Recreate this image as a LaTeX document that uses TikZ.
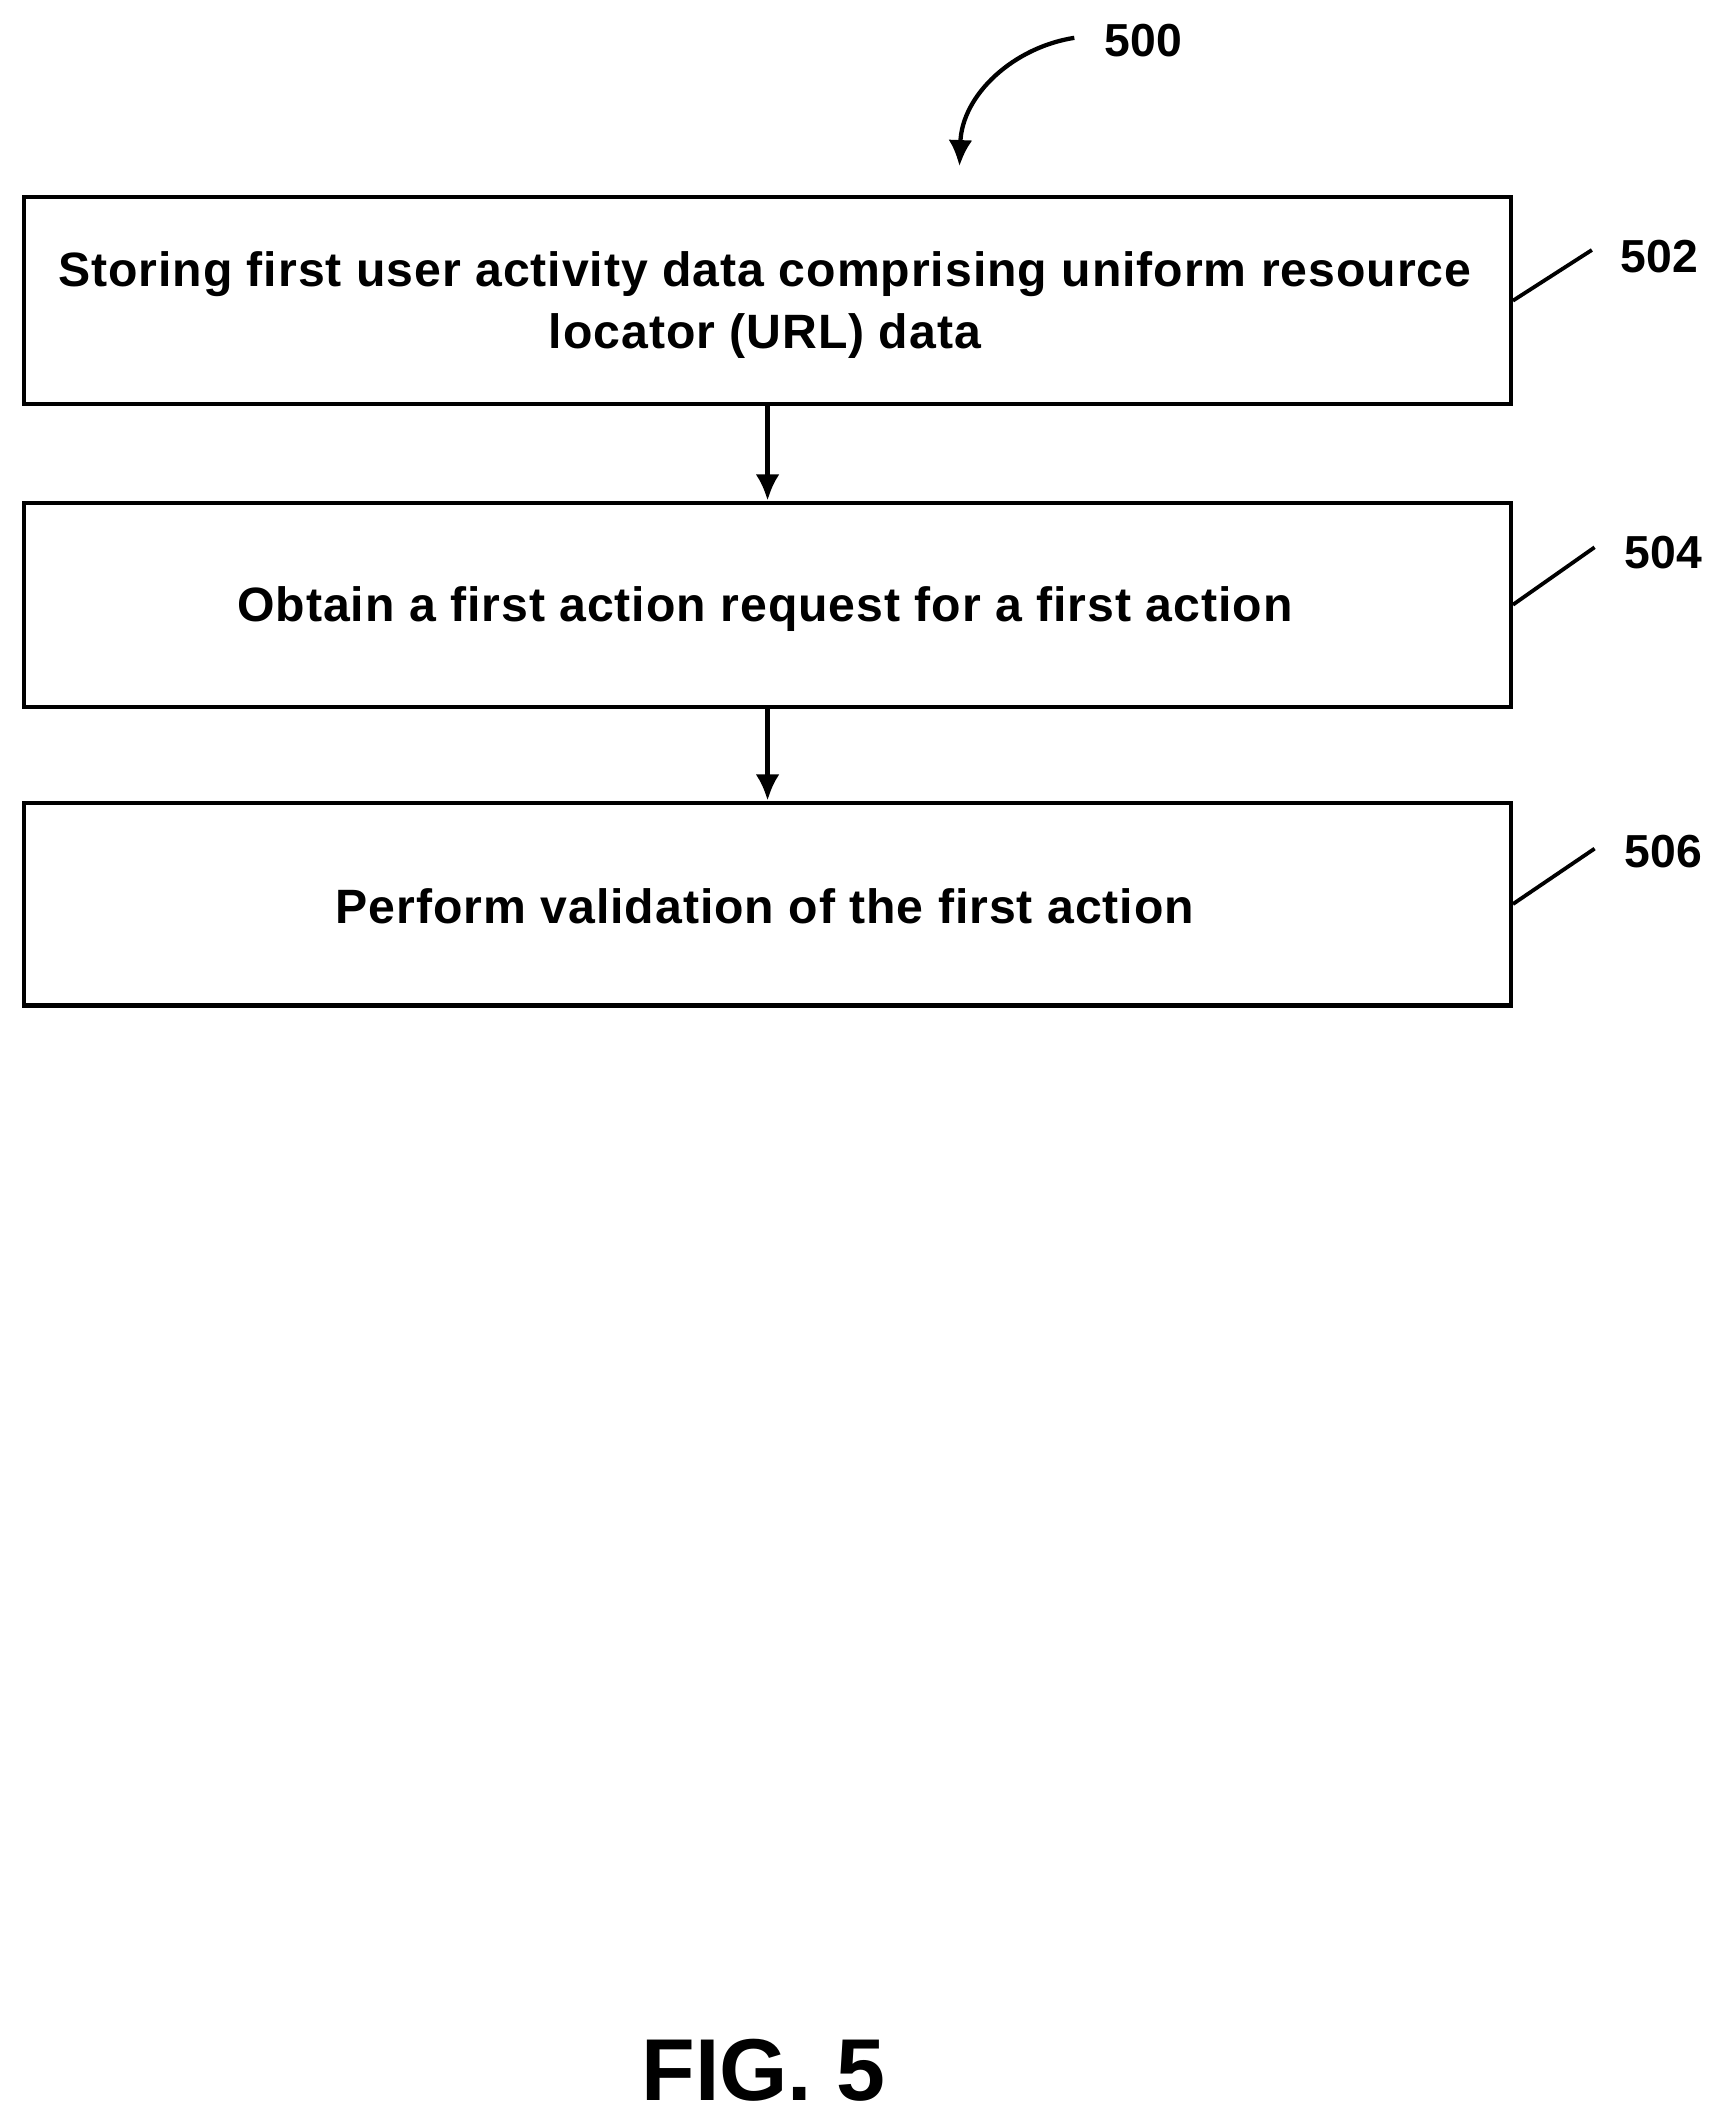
\documentclass[tikz,border=0pt]{standalone}
\usepackage{fontspec}
\setmainfont{Liberation Sans}
\usetikzlibrary{arrows.meta}
\begin{document}
\begin{tikzpicture}[x=0.02cm,y=-0.02cm,
  box/.style={draw,line width=1.8pt,minimum width=1100*0.02cm,align=center,inner sep=0pt},
  txt/.style={align=center,font=\fontsize{20.3}{26}\selectfont\bfseries\addfontfeature{LetterSpace=2}},
  lab/.style={font=\fontsize{19.5}{22}\selectfont\bfseries},
  arr/.style={line width=1.8pt,-{Latex[length=11pt,width=10pt]}},
  lead/.style={line width=1.6pt}]
\useasboundingbox (0,0) rectangle (1280,1574);
\node[box,minimum height=153*0.02cm] (b1) at (568,222.5) {};
\node[box,minimum height=151*0.02cm] (b2) at (568,447.5) {};
\node[box,minimum height=150*0.02cm] (b3) at (568,669) {};
\node[txt] (t1) at (566,226) {Storing first user activity data comprising uniform resource\\locator (URL) data};
\node[txt] (t2) at (566,451) {Obtain a first action request for a first action};
\node[txt] (t3) at (566,671) {Perform validation of the first action};
\draw[arr] (b1.south -| 568,0) -- (b2.north -| 568,0);
\draw[arr] (b2.south -| 568,0) -- (b3.north -| 568,0);
\node[lab] (l502) at (1228,190) {502};
\node[lab] (l504) at (1231,409) {504};
\node[lab] (l506) at (1231,630) {506};
\coordinate (c502) at (1178,185);
\coordinate (c504) at (1180,405);
\coordinate (c506) at (1180,628);
\draw[lead] (b1.east) -- (c502);
\draw[lead] (b2.east) -- (c504);
\draw[lead] (b3.east) -- (c506);
\node[lab] (l500) at (846,30) {500};
\coordinate (s500) at (795,28);
\coordinate (e500) at (710,123);
\draw[arr] (s500) .. controls (750,35) and (712,70) .. (e500);
\node[font=\fontsize{37}{42}\selectfont\bfseries] (fig) at (565,1532) {FIG. 5};
\end{tikzpicture}
\end{document}
